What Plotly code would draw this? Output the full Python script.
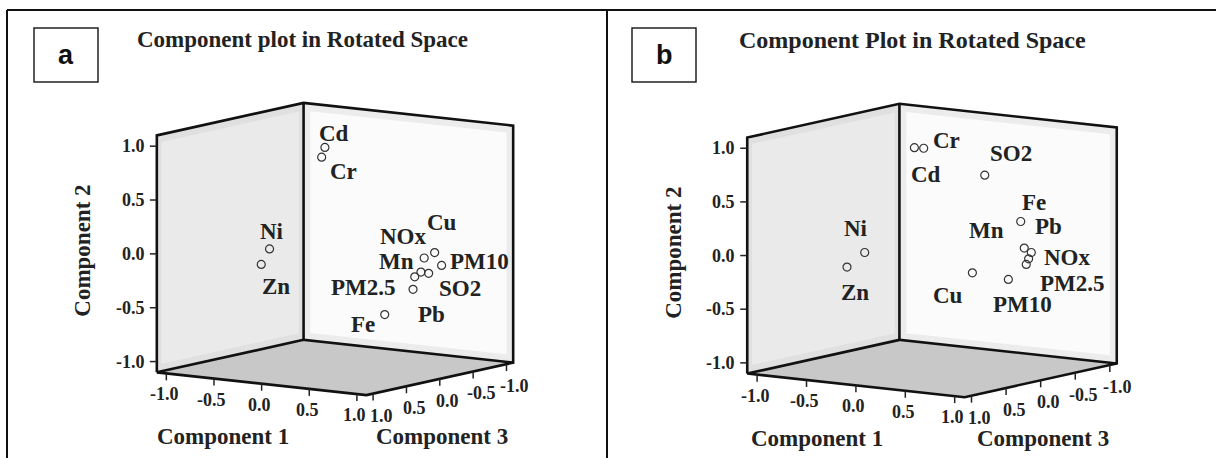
import numpy as np
import plotly.graph_objects as go

# ---------------------------------------------------------------------------
# Rotated component loadings (Component 1, Component 2, Component 3)
# ---------------------------------------------------------------------------
VARS_A = ["Cd", "Cr", "Ni", "Zn", "Cu", "NOx", "Mn", "PM10", "PM2.5", "SO2", "Pb", "Fe"]
C1_A = [0.02, 0.00, -0.12, -0.20, 0.92, 0.88, 0.86, 0.93, 0.84, 0.85, 0.83, 0.62]
C2_A = [0.97, 0.88, 0.10, -0.05, 0.03, -0.01, -0.14, -0.10, -0.29, -0.17, -0.18, -0.53]
C3_A = [0.18, 0.20, 0.81, 0.82, -0.18, -0.08, -0.06, -0.27, 0.03, -0.19, -0.01, 0.14]

VARS_B = ["Cr", "Cd", "SO2", "Fe", "Pb", "NOx", "Mn", "PM2.5", "PM10", "Cu", "Ni", "Zn"]
C1_B = [0.00, -0.08, 0.45, 0.80, 0.85, 0.90, 0.88, 0.87, 0.78, 0.50, -0.10, -0.30]
C2_B = [0.97, 0.97, 0.73, 0.33, 0.09, 0.05, -0.01, -0.06, -0.19, -0.14, 0.09, -0.07]
C3_B = [0.12, 0.14, -0.12, -0.14, -0.12, -0.15, -0.14, -0.12, 0.01, 0.13, 0.83, 0.80]

TICK_VALUES = [-1.0, -0.5, 0.0, 0.5, 1.0]
TICK_LABELS = ["-1.0", "-0.5", "0.0", "0.5", "1.0"]
AXIS_LIMIT = 1.1

# label placement around each marker (pixels: right, down)
SHIFT_A = {"Cd": (9, -14), "Cr": (22, 14), "Ni": (2, -17), "Zn": (15, 22),
           "Cu": (7, -30), "NOx": (-21, -21), "Mn": (-24, -11), "PM10": (38, -4),
           "PM2.5": (-50, -2), "SO2": (31, 15), "Pb": (17, 38), "Fe": (-22, 10)}
SHIFT_B = {"Cr": (23, -8), "Cd": (12, 27), "SO2": (26, -22), "Fe": (13, -19),
           "Pb": (24, -22), "Mn": (-42, -28), "NOx": (36, 5), "PM2.5": (46, 19),
           "PM10": (14, 25), "Cu": (-24, 23), "Ni": (-9, -24), "Zn": (8, 25)}

W, H = 1216, 458
SERIF = "Liberation Serif, Times New Roman, serif"
SANS = "Liberation Sans, Arial, sans-serif"
INK = "#222222"

# viewing geometry of the 3-D box (orthographic view)
AZIM = np.radians(35.0)
TILT = 0.155

PANELS = [
    dict(tag="a", title="Component plot in Rotated Space", names=VARS_A,
         c1=C1_A, c2=C2_A, c3=C3_A, shifts=SHIFT_A,
         origin=(335, 249), scale=116.3, vscale=107.7, domain=(0.0, 0.5),
         title_x=302, title_size=23, badge=(34, 98)),
    dict(tag="b", title="Component Plot in Rotated Space", names=VARS_B,
         c1=C1_B, c2=C2_B, c3=C3_B, shifts=SHIFT_B,
         origin=(932, 250.5), scale=120.6, vscale=107.3, domain=(0.5, 1.0),
         title_x=912, title_size=24, badge=(632, 696)),
]


def project(c1, c2, c3, kz):
    c1, c2, c3 = (np.asarray(a, dtype=float) for a in (c1, c2, c3))
    h = c1 * np.cos(AZIM) - c3 * np.sin(AZIM)
    v = kz * c2 - TILT * (c1 * np.sin(AZIM) + c3 * np.cos(AZIM))
    return h, v


fig = go.Figure()
annotations = []
shapes = []
layout_axes = {}

for i, p in enumerate(PANELS):
    suffix = "" if i == 0 else str(i + 1)
    xref, yref = "x" + suffix, "y" + suffix
    s = p["scale"]
    kz = p["vscale"] / s
    R = AXIS_LIMIT

    def proj(pts):
        arr = np.array(pts, dtype=float).T
        return project(arr[0], arr[1], arr[2], kz)

    def add_poly(pts, color):
        h, v = proj(pts)
        fig.add_trace(go.Scatter(x=np.append(h, h[0]), y=np.append(v, v[0]), mode="lines",
                                 fill="toself", fillcolor=color, line=dict(width=0),
                                 xaxis=xref, yaxis=yref, hoverinfo="skip", showlegend=False))

    e = 0.07
    # left wall (Component 1 = min), back wall (Component 3 = min), floor (Component 2 = min)
    add_poly([(-R, -R, R), (-R, R, R), (-R, R, -R), (-R, -R, -R)], "#e0e0e0")
    add_poly([(-R, -R + e, R - e), (-R, R - e, R - e), (-R, R - e, -R + e), (-R, -R + e, -R + e)], "#eaeaea")
    add_poly([(-R, -R, -R), (-R, R, -R), (R, R, -R), (R, -R, -R)], "#ececec")
    add_poly([(-R + e, -R + e, -R), (-R + e, R - e, -R), (R - e, R - e, -R), (R - e, -R + e, -R)], "#fbfbfb")
    add_poly([(-R, -R, R), (R, -R, R), (R, -R, -R), (-R, -R, -R)], "#c8c8c8")

    # box edges
    path = [(-R, -R, R), (-R, R, R), (-R, R, -R), (R, R, -R), (R, -R, -R), (R, -R, R), (-R, -R, R),
            None, (-R, R, -R), (-R, -R, -R), (R, -R, -R), None, (-R, -R, -R), (-R, -R, R)]
    ex, ey = [], []
    for pt in path:
        if pt is None:
            ex.append(None); ey.append(None)
        else:
            h, v = proj([pt])
            ex.append(float(h[0])); ey.append(float(v[0]))
    fig.add_trace(go.Scatter(x=ex, y=ey, mode="lines", line=dict(color="#111111", width=2.6),
                             xaxis=xref, yaxis=yref, hoverinfo="skip", showlegend=False))

    # tick marks
    tick = 7.0 / s
    tv = np.array(TICK_VALUES)
    n = len(tv)
    h2, v2 = project(np.full(n, -R), tv, np.full(n, R), kz)       # Component 2 axis
    h1, v1 = project(tv, np.full(n, -R), np.full(n, R), kz)       # Component 1 axis
    h3, v3 = project(np.full(n, R), np.full(n, -R), tv, kz)       # Component 3 axis
    tx, ty = [], []
    for k in range(n):
        tx += [h2[k], h2[k] - tick, None, h1[k], h1[k], None, h3[k], h3[k], None]
        ty += [v2[k], v2[k], None, v1[k], v1[k] - tick, None, v3[k], v3[k] - tick, None]
    fig.add_trace(go.Scatter(x=tx, y=ty, mode="lines", line=dict(color=INK, width=1.5),
                             xaxis=xref, yaxis=yref, hoverinfo="skip", showlegend=False))

    tick_font = dict(family=SERIF, size=18, color=INK)
    for k in range(n):
        lbl = "<b>%s</b>" % TICK_LABELS[k]
        annotations.append(dict(x=h2[k], y=v2[k], xref=xref, yref=yref, text=lbl, showarrow=False,
                                xanchor="right", yanchor="middle", xshift=-10, font=tick_font))
        annotations.append(dict(x=h1[k], y=v1[k], xref=xref, yref=yref, text=lbl, showarrow=False,
                                xanchor="center", yanchor="middle", xshift=-2, yshift=-21, font=tick_font))
        annotations.append(dict(x=h3[k], y=v3[k], xref=xref, yref=yref, text=lbl, showarrow=False,
                                xanchor="center", yanchor="middle", xshift=8, yshift=-22, font=tick_font))

    # axis titles
    title_font = dict(family=SERIF, size=23, color=INK)
    hm, vm = project([0.0], [-R], [R], kz)
    annotations.append(dict(x=hm[0], y=vm[0], xref=xref, yref=yref, text="<b>Component 1</b>",
                            showarrow=False, xanchor="center", yanchor="middle",
                            xshift=-39, yshift=-53, font=title_font))
    hm, vm = project([R], [-R], [0.0], kz)
    annotations.append(dict(x=hm[0], y=vm[0], xref=xref, yref=yref, text="<b>Component 3</b>",
                            showarrow=False, xanchor="center", yanchor="middle",
                            xshift=2, yshift=-58, font=title_font))
    hm, vm = project([-R], [0.0], [R], kz)
    annotations.append(dict(x=hm[0], y=vm[0], xref=xref, yref=yref, text="<b>Component 2</b>",
                            showarrow=False, textangle=-90, xanchor="center", yanchor="middle",
                            xshift=-74, yshift=3, font=title_font))

    # loadings
    hp, vp = project(p["c1"], p["c2"], p["c3"], kz)
    fig.add_trace(go.Scatter(x=hp, y=vp, mode="markers", text=p["names"],
                             marker=dict(symbol="circle-open", size=8, color="#333333",
                                         line=dict(width=1.2, color="#333333")),
                             xaxis=xref, yaxis=yref, showlegend=False))
    label_font = dict(family=SERIF, size=23, color=INK)
    for name, h, v in zip(p["names"], hp, vp):
        dx, dy = p["shifts"][name]
        annotations.append(dict(x=h, y=v, xref=xref, yref=yref, text="<b>%s</b>" % name,
                                showarrow=False, xanchor="center", yanchor="middle",
                                xshift=dx, yshift=-dy, borderpad=0, font=label_font))

    # panel title and letter badge
    annotations.append(dict(x=p["title_x"] / W, y=1 - 40 / H, xref="paper", yref="paper",
                            text="<b>%s</b>" % p["title"], showarrow=False,
                            xanchor="center", yanchor="middle",
                            font=dict(family=SERIF, size=p["title_size"], color=INK)))
    b0, b1 = p["badge"]
    shapes.append(dict(type="rect", xref="paper", yref="paper", x0=b0 / W, x1=b1 / W,
                       y0=1 - 82 / H, y1=1 - 28 / H, line=dict(color=INK, width=1.5),
                       fillcolor="white"))
    annotations.append(dict(x=(b0 + b1) / 2 / W, y=1 - 55 / H, xref="paper", yref="paper",
                            text="<b>%s</b>" % p["tag"], showarrow=False,
                            xanchor="center", yanchor="middle",
                            font=dict(family=SANS, size=27, color="#111111")))

    ox, oy = p["origin"]
    d0, d1 = p["domain"]
    layout_axes["xaxis" + suffix] = dict(domain=[d0, d1], range=[(d0 * W - ox) / s, (d1 * W - ox) / s],
                                         visible=False, fixedrange=True, anchor=yref)
    layout_axes["yaxis" + suffix] = dict(domain=[0, 1], range=[(oy - H) / s, oy / s],
                                         visible=False, fixedrange=True, anchor=xref)

# outer frame lines
frame = dict(color="#111111", width=2)
shapes += [
    dict(type="line", xref="paper", yref="paper", x0=7 / W, x1=1, y0=1 - 10 / H, y1=1 - 10 / H, line=frame),
    dict(type="line", xref="paper", yref="paper", x0=7 / W, x1=7 / W, y0=0, y1=1 - 10 / H, line=frame),
    dict(type="line", xref="paper", yref="paper", x0=607 / W, x1=607 / W, y0=0, y1=1 - 10 / H, line=frame),
]

fig.update_layout(width=W, height=H, autosize=False, margin=dict(l=0, r=0, t=0, b=0),
                  paper_bgcolor="white", plot_bgcolor="rgba(0,0,0,0)",
                  annotations=annotations, shapes=shapes, showlegend=False, **layout_axes)

fig.write_html("out.html")
